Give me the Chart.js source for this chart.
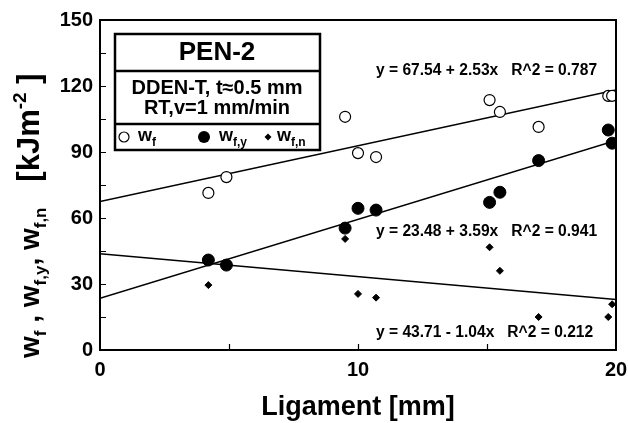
<!DOCTYPE html>
<html>
<head>
<meta charset="utf-8">
<script src="https://cdn.jsdelivr.net/npm/chart.js@4.4.1/dist/chart.umd.min.js"></script>
<style>
  html, body { margin: 0; padding: 0; background: #fff; }
</style>
</head>
<body>
<canvas id="myChart" width="628" height="423"></canvas>
<script>
// ligament lengths (mm) and work values (kJ/m^2)
const ligament = [4.2, 4.9, 9.5, 10.0, 10.7, 15.1, 15.5, 17.0, 19.7, 19.85];
const wf = [71.4, 78.6, 106, 89.5, 87.7, 113.6, 108.2, 101.4, 115.5, 115.5];
const wfy = [40.9, 38.6, 55.4, 64.4, 63.6, 67.1, 71.7, 86.1, 100, 94];
const ligamentN = [4.2, 9.5, 10.0, 10.7, 15.1, 15.5, 17.0, 19.7, 19.85];
const wfn = [29.5, 50.5, 25.5, 23.8, 46.7, 36, 15, 15, 20.8];

// linear fits as printed on the chart
const fitIntercept = [67.54, 23.48, 43.71];
const fitSlope = [2.53, 3.59, -1.04];
const fitText = [
    "y = 67.54 + 2.53x   R^2 = 0.787",
    "y = 23.48 + 3.59x   R^2 = 0.941",
    "y = 43.71 - 1.04x   R^2 = 0.212"
];
const fitTextY = [71, 232, 333];

const xRange = [0, 20];
const yRange = [0, 150];

const FONT = "'Liberation Sans', Arial, Helvetica, sans-serif";

function pts(xs, ys) {
    return xs.map(function(x, i) { return { x: x, y: ys[i] }; });
}

function fitLine(i) {
    return xRange.map(function(x) { return { x: x, y: fitIntercept[i] + fitSlope[i] * x }; });
}

// draws a run of text pieces, each with its own size and baseline shift
function richText(ctx, x, y, parts) {
    let cx = x;
    parts.forEach(function(p) {
        ctx.font = "bold " + p[1] + "px " + FONT;
        ctx.fillText(p[0], cx, y + (p[2] || 0));
        cx += ctx.measureText(p[0]).width;
    });
}

const decor = {
    id: 'decor',
    afterDraw: function(chart) {
        const ctx = chart.ctx;
        const a = chart.chartArea;
        const xs = chart.scales.x, ys = chart.scales.y;
        ctx.save();
        ctx.fillStyle = '#000';
        ctx.strokeStyle = '#000';

        // frame
        ctx.lineWidth = 2;
        ctx.strokeRect(a.left, a.top, a.right - a.left, a.bottom - a.top);

        // inward ticks
        ctx.lineWidth = 1.2;
        ctx.beginPath();
        for (let v = 15; v < 150; v += 15) {
            const py = Math.round(ys.getPixelForValue(v)) + 0.5;
            ctx.moveTo(a.left, py);
            ctx.lineTo(a.left + 6, py);
        }
        for (let v = 5; v < 20; v += 5) {
            const px = Math.round(xs.getPixelForValue(v)) + 0.5;
            ctx.moveTo(px, a.bottom);
            ctx.lineTo(px, a.bottom - 6);
        }
        ctx.stroke();

        // fit equations
        ctx.textBaseline = 'middle';
        ctx.textAlign = 'left';
        ctx.font = "bold 15.6px " + FONT;
        fitText.forEach(function(t, i) {
            ctx.fillText(t, 376, fitTextY[i]);
        });

        // legend box
        ctx.fillStyle = '#fff';
        ctx.fillRect(115, 34, 205, 116);
        ctx.fillStyle = '#000';
        ctx.lineWidth = 2.5;
        ctx.strokeRect(115, 34, 205, 116);
        ctx.beginPath();
        ctx.moveTo(115, 71); ctx.lineTo(320, 71);
        ctx.moveTo(115, 124); ctx.lineTo(320, 124);
        ctx.stroke();

        ctx.textAlign = 'center';
        ctx.font = "bold 26px " + FONT;
        ctx.fillText("PEN-2", 217, 53);
        ctx.font = "bold 20px " + FONT;
        ctx.fillText("DDEN-T, t\u22480.5 mm", 217, 88);
        ctx.fillText("RT,v=1 mm/min", 217, 108);

        // legend symbols
        ctx.lineWidth = 1.2;
        ctx.beginPath();
        ctx.arc(124, 137, 5, 0, Math.PI * 2);
        ctx.stroke();
        ctx.beginPath();
        ctx.arc(204, 137, 6, 0, Math.PI * 2);
        ctx.fill();
        ctx.beginPath();
        ctx.moveTo(268, 133.5); ctx.lineTo(271.5, 137); ctx.lineTo(268, 140.5); ctx.lineTo(264.5, 137);
        ctx.closePath();
        ctx.fill();

        ctx.textAlign = 'left';
        ctx.textBaseline = 'alphabetic';
        richText(ctx, 138, 141, [["w", 18], ["f", 12, 5]]);
        richText(ctx, 219, 141, [["w", 18], ["f,y", 12, 5]]);
        richText(ctx, 277, 141, [["w", 18], ["f,n", 12, 5]]);

        // x axis title
        ctx.textAlign = 'center';
        ctx.textBaseline = 'middle';
        ctx.font = "bold 27px " + FONT;
        ctx.fillText("Ligament [mm]", (a.left + a.right) / 2, 408);

        // y axis title, rotated
        ctx.translate(39, 358);
        ctx.rotate(-Math.PI / 2);
        ctx.textAlign = 'left';
        ctx.textBaseline = 'alphabetic';
        richText(ctx, 0, 0, [
            ["w", 28], ["f", 17, 7], [" , ", 28],
            ["w", 28], ["f,y", 17, 7], [", ", 28],
            ["w", 28], ["f,n", 17, 7], ["   [kJm", 31],
            ["-2", 19, -13], [" ]", 31]
        ]);
        ctx.restore();
    }
};

const config = {
    type: 'scatter',
    data: {
        datasets: [
            {
                type: 'line', data: fitLine(0), borderColor: '#000', borderWidth: 1.5,
                pointRadius: 0, order: 5
            },
            {
                type: 'line', data: fitLine(1), borderColor: '#000', borderWidth: 1.5,
                pointRadius: 0, order: 5
            },
            {
                type: 'line', data: fitLine(2), borderColor: '#000', borderWidth: 1.5,
                pointRadius: 0, order: 5
            },
            {
                label: 'wf', data: pts(ligament, wf), pointStyle: 'circle', pointRadius: 5.5,
                backgroundColor: '#fff', borderColor: '#000', borderWidth: 1.2, order: 1
            },
            {
                label: 'wf,y', data: pts(ligament, wfy), pointStyle: 'circle', pointRadius: 6,
                backgroundColor: '#000', borderColor: '#000', borderWidth: 1, order: 1
            },
            {
                label: 'wf,n', data: pts(ligamentN, wfn), pointStyle: 'rectRot', pointRadius: 3.5,
                backgroundColor: '#000', borderColor: '#000', borderWidth: 1, order: 1
            }
        ]
    },
    options: {
        responsive: false,
        devicePixelRatio: 1,
        animation: false,
        layout: { padding: { top: 20, right: 12, left: 0, bottom: 0 } },
        plugins: {
            legend: { display: false },
            tooltip: { enabled: false }
        },
        scales: {
            x: {
                type: 'linear', min: xRange[0], max: xRange[1],
                grid: { display: false, drawTicks: false },
                border: { display: false },
                ticks: {
                    stepSize: 5, maxRotation: 0, padding: 8, color: '#000',
                    font: { family: FONT, size: 20, weight: 'bold' },
                    callback: function(v) { return v % 10 === 0 ? v : ''; }
                },
                afterFit: function(s) {
                    s.height = 73;
                    s.paddingRight = 0;
                    s.paddingLeft = 0;
                }
            },
            y: {
                min: yRange[0], max: yRange[1],
                grid: { display: false, drawTicks: false },
                border: { display: false },
                ticks: {
                    stepSize: 15, padding: 7, color: '#000',
                    font: { family: FONT, size: 20, weight: 'bold' },
                    callback: function(v) { return v % 30 === 0 ? v : ''; }
                },
                afterFit: function(s) { s.width = 100; }
            }
        }
    },
    plugins: [decor]
};

var myChart = new Chart(document.getElementById('myChart'), config);
</script>
</body>
</html>
